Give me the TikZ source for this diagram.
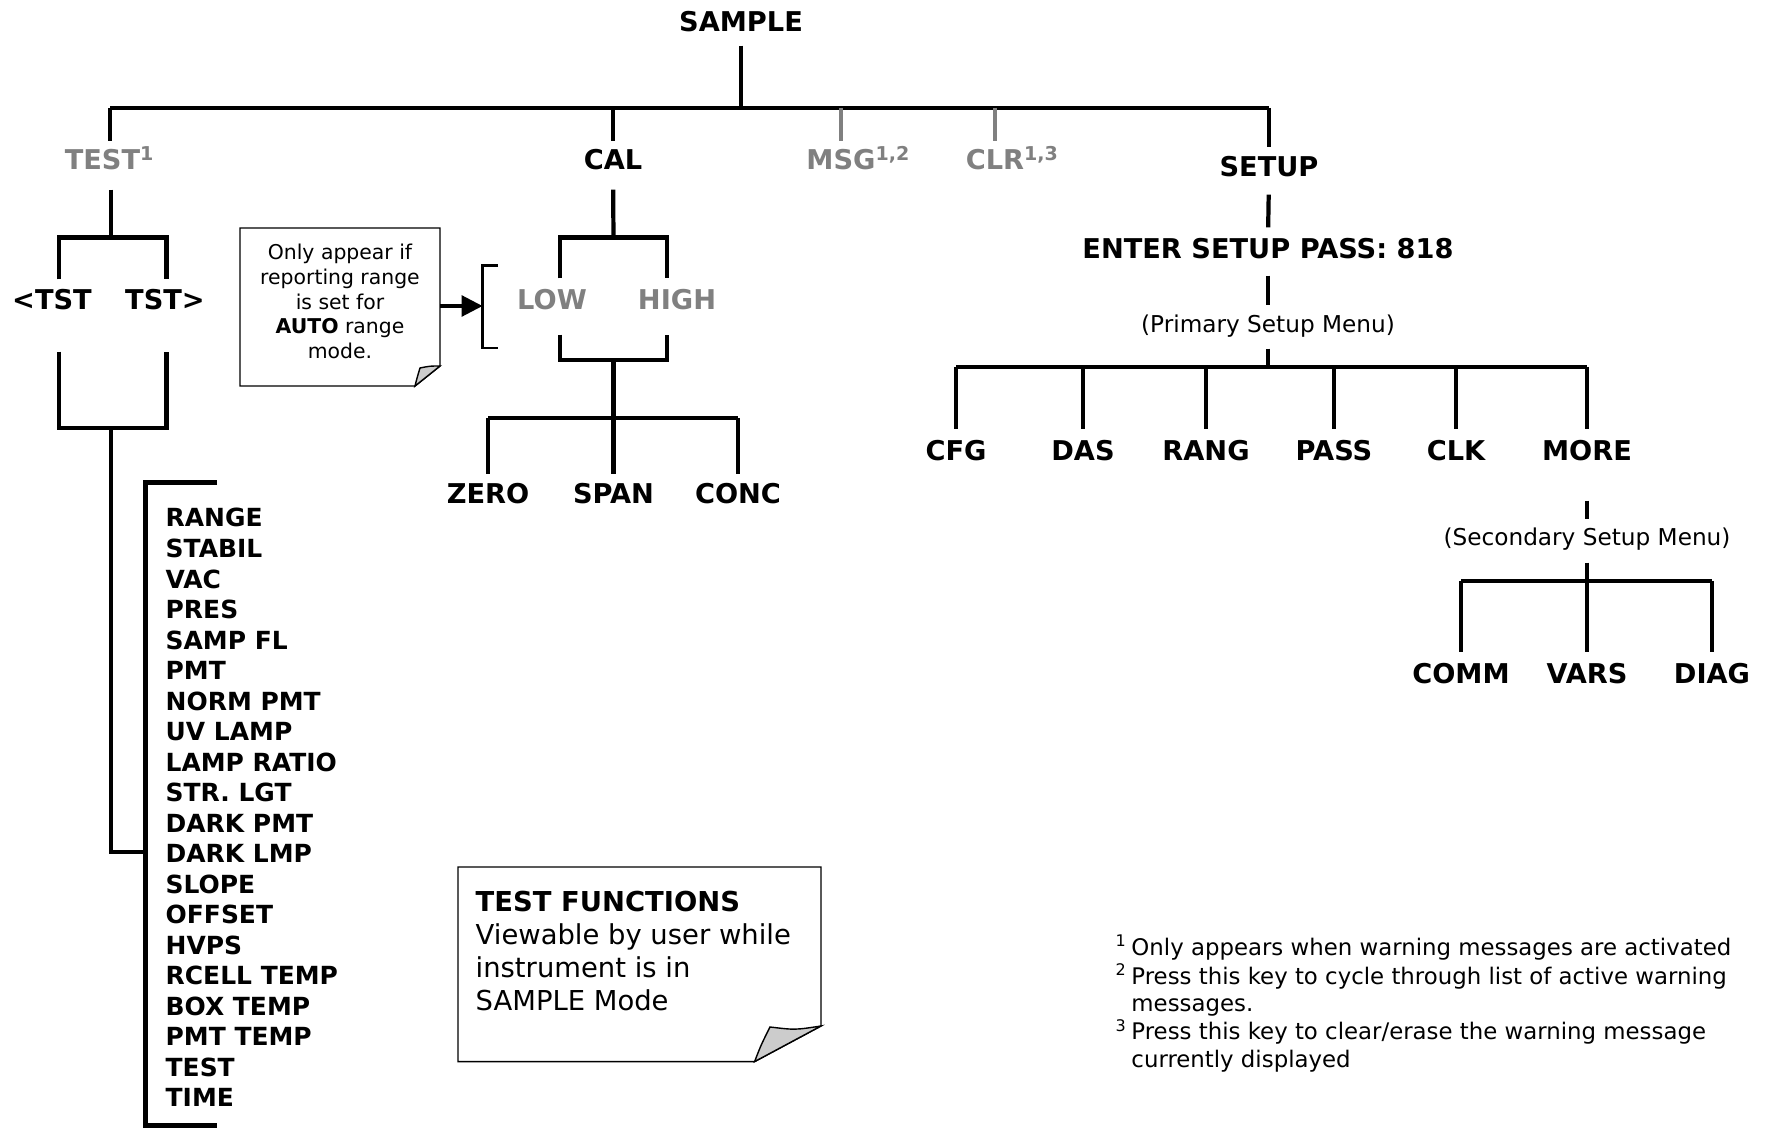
\documentclass[tikz,border=0pt]{standalone}
\usepackage{fontspec}
\setmainfont{DejaVu Sans}
\usetikzlibrary{arrows.meta}

\definecolor{keygray}{RGB}{128,128,128}
\definecolor{foldgray}{RGB}{204,204,204}

\tikzset{
    key/.style={font=\fontsize{7.75pt}{9pt}\selectfont\bfseries, inner sep=0pt, text height=2mm, text depth=0pt},
    graykey/.style={key, text=keygray},
    item/.style={font=\fontsize{7.1pt}{9pt}\selectfont\bfseries, inner sep=0pt, text height=2mm, text depth=0pt, anchor=west},
    menu/.style={font=\fontsize{6.6pt}{8pt}\selectfont, inner sep=0pt, text height=1.8mm, text depth=0.4mm},
    bar/.style={line width=1.2pt},
    graybar/.style={line width=1.2pt, draw=keygray},
    thinbar/.style={line width=0.8pt},
    paper/.style={draw, line width=0.4pt},
}

\begin{document}
\begin{tikzpicture}[x=0.1mm,y=-0.1mm]
    \useasboundingbox (0,0) rectangle (1770,1128);

    % main menu
    \node[key] (sample) at (741,22) {SAMPLE};
    \node[graykey] (test) at (110,160) {TEST\textsuperscript{1}};
    \node[key] (cal) at (613,160) {CAL};
    \node[graykey] (msg) at (841,160) {MSG\rlap{\textsuperscript{1,2}}};
    \node[graykey] (clr) at (995,160) {CLR\rlap{\textsuperscript{1,3}}};
    \node[key] (setup) at (1269,167) {SETUP};

    \coordinate (top) at (741,108);
    \coordinate (dtest) at (110,108);
    \draw[bar, shorten <=1.3mm] (sample.south) -- (top);
    \draw[bar] (dtest) -- (top -| setup.north);
    \draw[bar, shorten >=0.8mm] (dtest) -- (dtest |- test.north);
    \draw[bar, shorten >=0.8mm] (top -| cal.north) -- (cal.north);
    \draw[graybar, shorten >=0.8mm] (top -| msg.north) -- (msg.north);
    \draw[graybar, shorten >=0.8mm] (top -| clr.north) -- (clr.north);
    \draw[bar, shorten >=0.95mm] (top -| setup.north) -- (setup.north);

    % setup branch
    \node[key] (pass) at (1268,248) {ENTER SETUP PASS: 818};
    \node[menu] (primary) at (1268,325.5) {(Primary Setup Menu)};
    \coordinate (pbar) at (1268,367);
    \draw[bar, shorten <=1.7mm, shorten >=1mm] (setup.south) -- (pass.north);
    \draw[bar, shorten <=1.7mm, shorten >=0.85mm] (pass.south) -- (primary.north);
    \draw[bar, shorten <=1.15mm] (primary.south) -- (pbar);

    \node[key] (cfg) at (956,450) {CFG};
    \node[key] (das) at (1083,450) {DAS};
    \node[key] (rang) at (1206,450) {RANG};
    \node[key] (pss) at (1334,450) {PASS};
    \node[key] (clk) at (1456,450) {CLK};
    \node[key] (more) at (1587,450) {MORE};
    \draw[bar] (pbar -| cfg.north) -- (pbar -| more.north);
    \foreach \k in {cfg,das,rang,pss,clk,more}
        \draw[bar, shorten >=1mm] (pbar -| \k.north) -- (\k.north);

    \node[menu] (secondary) at (1587,538) {(Secondary Setup Menu)};
    \coordinate (sbar) at (1587,581);
    \draw[bar, shorten <=4mm, shorten >=0.7mm] (more.south) -- (secondary.north);
    \draw[bar, shorten <=1.3mm] (secondary.south) -- (sbar);

    \node[key] (comm) at (1461,673.5) {COMM};
    \node[key] (vars) at (1587,673.5) {VARS};
    \node[key] (diag) at (1712,673.5) {DIAG};
    \draw[bar] (sbar -| comm.north) -- (sbar -| diag.north);
    \foreach \k in {comm,vars,diag}
        \draw[bar, shorten >=1.1mm] (sbar -| \k.north) -- (\k.north);

    % test branch
    \node[key] (ltst) at (52,300) {<TST};
    \node[key] (rtst) at (165,300) {TST>};
    \coordinate (tbar) at (111,237.5);
    \coordinate (tl) at (59,237.5);
    \coordinate (tr) at (166.5,237.5);
    \coordinate (bl) at (59,428);
    \coordinate (br) at (166.5,428);
    \coordinate (trunk) at (111,852);
    \draw[bar, shorten <=1.9mm] (test.south -| tbar) -- (tbar);
    \draw[bar, shorten <=1mm, shorten >=1mm] (tl |- ltst.north) -- (tl) -- (tr) -- (tr |- rtst.north);
    \draw[bar, shorten <=4.1mm, shorten >=4.1mm] (bl |- ltst.south) -- (bl) -- (br) -- (br |- rtst.south);
    \draw[bar] (bl -| tbar) -- (trunk) -- (145.6,852);

    \foreach \name [count=\i from 0] in {RANGE,STABIL,VAC,PRES,SAMP FL,PMT,NORM PMT,UV LAMP,LAMP RATIO,STR. LGT,DARK PMT,DARK LMP,SLOPE,OFFSET,HVPS,RCELL TEMP,BOX TEMP,PMT TEMP,TEST,TIME}
        \node[item] (item\i) at (165,517+30.5*\i) {\name};
    \draw[bar] (217,482.6) -- (145.6,482.6) -- (145.6,1125.5) -- (217,1125.5);

    % cal branch
    \node[graykey] (low) at (552,300) {LOW};
    \node[graykey] (high) at (677,300) {HIGH};
    \coordinate (cbar) at (613.5,237.5);
    \coordinate (cl) at (560,237.5);
    \coordinate (cr) at (667,237.5);
    \coordinate (cbl) at (560,360);
    \coordinate (cbr) at (667,360);
    \coordinate (zbar) at (613.5,418);
    \draw[bar, shorten <=1.9mm] (cal.south) -- (cbar);
    \draw[bar, shorten <=1.1mm, shorten >=1.1mm] (cl |- low.north) -- (cl) -- (cr) -- (cr |- high.north);
    \draw[bar, shorten <=2.4mm, shorten >=2.4mm] (cbl |- low.south) -- (cbl) -- (cbr) -- (cbr |- high.south);

    \node[key] (zero) at (488,493.5) {ZERO};
    \node[key] (span) at (613.5,493.5) {SPAN};
    \node[key] (conc) at (738,493.5) {CONC};
    \draw[bar] (cbl -| cbar) -- (zbar);
    \draw[bar] (zbar -| zero.north) -- (zbar -| conc.north);
    \foreach \k in {zero,span,conc}
        \draw[bar, shorten >=0.9mm] (zbar -| \k.north) -- (\k.north);

    % auto range note
    \draw[paper, fill=white] (240,228) -- (440,228) -- (440,366) -- (415,386) -- (240,386) -- cycle;
    \draw[paper, fill=foldgray] (415,386) .. controls (417,378) .. (420,368) .. controls (430,366) .. (440,366) -- cycle;
    \node[font=\fontsize{5.8pt}{7pt}\selectfont, align=center, inner sep=0pt] (autonote) at (340,301.5)
        {Only appear if\\reporting range\\is set for\\\textbf{AUTO} range\\mode.};
    \coordinate (autoedge) at (440,306);
    \coordinate (brk) at (482.5,306);
    \draw[line width=0.9pt, -{Triangle[length=2.1mm,width=2.1mm]}] (autoedge) -- (brk);
    \draw[thinbar] (498,265.5) -- (482.5,265.5) -- (482.5,348) -- (498,348);

    % test functions note
    \draw[paper, fill=white] (458,867) -- (821,867) -- (821,1026) -- (754.6,1061.6) -- (458,1061.6) -- cycle;
    \draw[paper, fill=foldgray] (754.6,1061.6) .. controls (761,1045) .. (770,1027) .. controls (795,1030) .. (821,1026) -- cycle;
    \node[font=\fontsize{7.8pt}{9.45pt}\selectfont, align=left, anchor=north west, inner sep=0pt] (testnote) at (475,890)
        {\textbf{TEST FUNCTIONS}\\Viewable by user while\\instrument is in\\SAMPLE Mode};

    % footnotes
    \node[font=\fontsize{6.5pt}{7.7pt}\selectfont, anchor=north west, inner sep=0pt] (notes) at (1115,934)
        {\begin{tabular}{@{}r@{\,}l@{}}
        \textsuperscript{1} & Only appears when warning messages are activated\\
        \textsuperscript{2} & Press this key to cycle through list of active warning\\
         & messages.\\
        \textsuperscript{3} & Press this key to clear/erase the warning message\\
         & currently displayed
        \end{tabular}};
\end{tikzpicture}
\end{document}
